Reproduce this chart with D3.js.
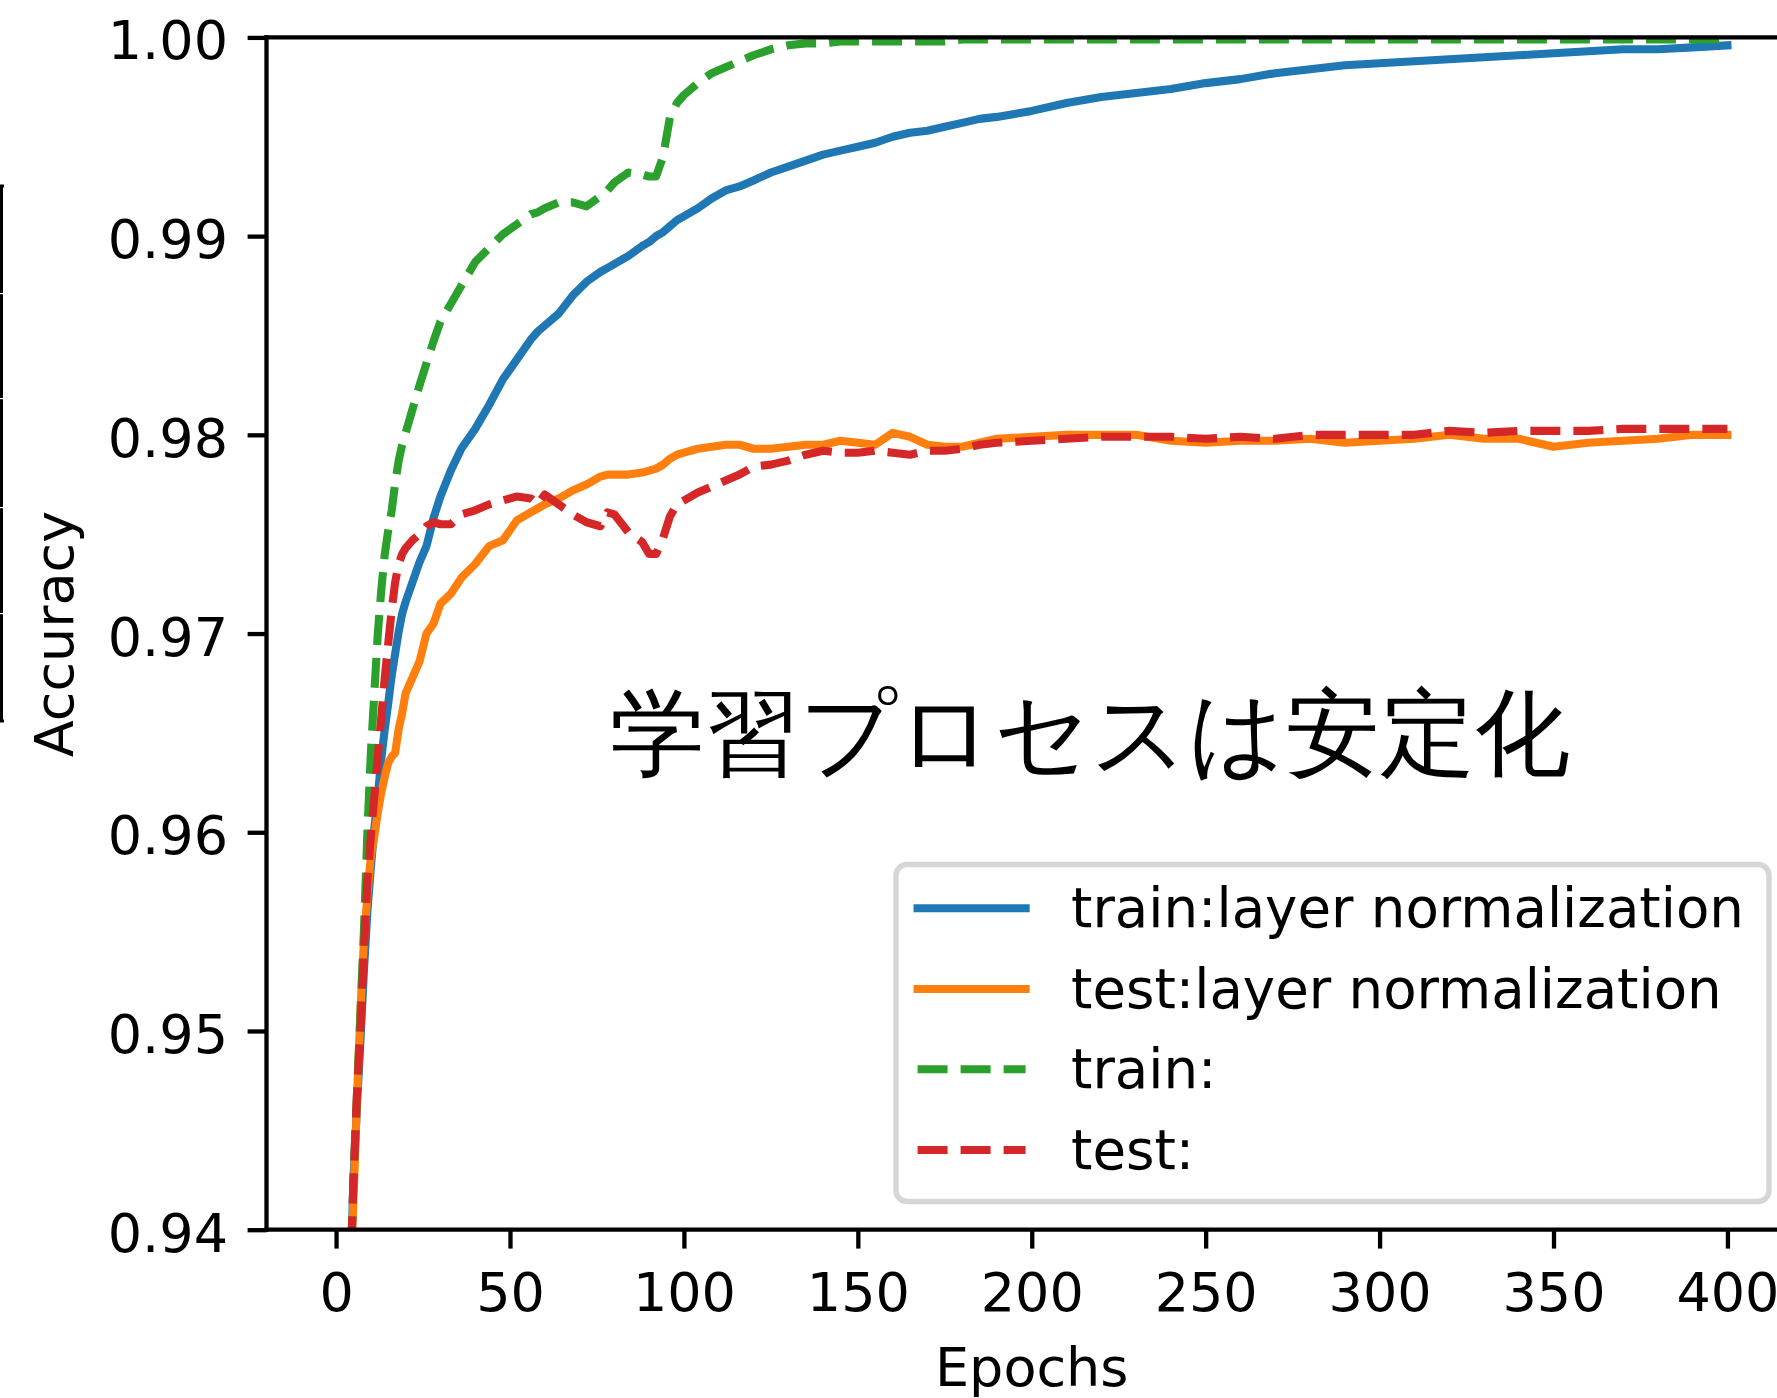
<!DOCTYPE html>
<html>
<head>
<meta charset="utf-8">
<script src="https://cdnjs.cloudflare.com/ajax/libs/d3/7.8.5/d3.min.js"></script>
<style>
html, body { margin: 0; padding: 0; background: #fff; }
svg { display: block; }
text { font-family: "DejaVu Sans", sans-serif; fill: #000; }
</style>
</head>
<body>
<svg id="chart" width="1777" height="1398"></svg>
<script>
// epochs the curves were read at
var epochs = [4,5,6,7,8,9,10,11,12,13,14,15,16,17,18,19,20,
  22,24,26,28,30,
  33,36,40,44,48,52,56,58,60,64,68,72,76,78,80,84,88,90,92,94,96,98,100,
  104,108,112,116,120,
  125,130,135,140,145,150,155,160,165,170,175,180,185,190,
  200,210,220,230,240,250,260,270,280,290,300,310,320,330,340,350,360,370,380,390,400];

var trainLN = [.937,.9425,.9462,.9495,.9530,.9560,.9582,.9602,.9618,.9637,.9652,.9665,.9679,.9690,.9701,.9710,.9716,
  .9726,.9736,.9744,.9758,.9769,
  .9782,.9793,.9803,.9815,.9828,.9838,.9848,.9852,.9855,.9861,.9870,.9877,.9882,.9884,.9886,.9890,.9895,.9897,.9900,.9902,.9905,.9908,.9910,
  .9914,.9919,.9923,.9925,.9928,
  .9932,.9935,.9938,.9941,.9943,.9945,.9947,.9950,.9952,.9953,.9955,.9957,.9959,.9960,
  .9963,.9967,.9970,.9972,.9974,.9977,.9979,.9982,.9984,.9986,.9987,.9988,.9989,.9990,.9991,.9992,.9993,.9994,.9994,.9995,.9996];

var testLN = [.937,.9415,.9465,.9510,.9545,.9568,.9588,.9598,.9610,.9620,.9628,.9635,.9638,.9640,.9652,.9660,.9670,
  .9678,.9686,.9700,.9705,.9715,
  .9720,.9728,.9735,.9744,.9747,.9757,.9761,.9763,.9765,.9768,.9772,.9775,.9779,.9780,.9780,.9780,.9781,.9782,.9783,.9785,.9788,.9790,.9791,
  .9793,.9794,.9795,.9795,.9793,
  .9793,.9794,.9795,.9795,.9797,.9796,.9795,.9801,.9799,.9795,.9794,.9794,.9796,.9798,
  .9799,.9800,.9800,.9800,.9797,.9796,.9797,.9797,.9798,.9796,.9797,.9798,.9800,.9798,.9798,.9794,.9796,.9797,.9798,.9800,.9800];

var trainPlain = [.937,.9425,.9468,.9508,.9550,.9600,.9640,.9670,.9700,.9722,.9740,.9752,.9762,.9776,.9787,.9795,.9801,
  .9813,.9825,.9836,.9847,.9857,
  .9866,.9875,.9887,.9894,.9901,.9906,.9911,.9912,.9914,.9917,.9917,.9915,.9920,.9923,.9927,.9932,.9931,.9930,.9930,.9940,.9960,.9967,.9971,
  .9977,.9982,.9985,.9988,.9991,
  .9994,.9996,.9997,.9997,.9998,.9998,.9998,.9998,.9998,.9998,.9998,.9999,.9999,.9999,
  .9999,.9999,.9999,.9999,.9999,.9999,.9999,.9999,.9999,.9999,.9999,.9999,.9999,.9999,.9999,.9999,.9999,.9999,.9999,.9999,.9999];

var testPlain = [.937,.9425,.9468,.9500,.9540,.9575,.9598,.9618,.9638,.9658,.9678,.9695,.9712,.9726,.9735,.9740,.9743,
  .9747,.9750,.9754,.9756,.9755,
  .9755,.9760,.9762,.9765,.9767,.9769,.9768,.9765,.9770,.9765,.9760,.9756,.9754,.9761,.9760,.9751,.9746,.9740,.9740,.9748,.9759,.9765,.9767,
  .9771,.9774,.9777,.9780,.9784,
  .9785,.9787,.9790,.9792,.9791,.9791,.9792,.9791,.9790,.9792,.9792,.9793,.9795,.9796,
  .9797,.9798,.9799,.9799,.9799,.9798,.9799,.9798,.9800,.9800,.9800,.9800,.9802,.9801,.9802,.9802,.9802,.9803,.9803,.9803,.9803];

var seriesLabels = ["train:layer normalization", "test:layer normalization", "train:", "test:"];
var xTicks = [0, 50, 100, 150, 200, 250, 300, 350, 400];
var yTicks = [0.94, 0.95, 0.96, 0.97, 0.98, 0.99, 1.00];
var note = "学習プロセスは安定化";

var colors = ["#1f77b4", "#ff7f0e", "#2ca02c", "#d62728"];
var dashes = [null, null, "30,13", "30,13"];
var allSeries = [trainLN, testLN, trainPlain, testPlain];

// layout (matplotlib px at ~5.4px/pt); the figure is cropped on the right
var plotL = 266.5, plotR = 1797, plotT = 37.4, plotB = 1229.7;
var fs = 54, lw = 8.1, spineW = 4.3, tickLen = 18.9;

var svg = d3.select("#chart");
svg.append("rect").attr("width", 1777).attr("height", 1398).attr("fill", "#fff");

var x = d3.scaleLinear().domain([-20, 420]).range([plotL, plotR]);
var y = d3.scaleLinear().domain([0.94, 1.0]).range([plotB, plotT]);

svg.append("clipPath").attr("id", "plotclip")
   .append("rect").attr("x", plotL).attr("y", plotT)
   .attr("width", plotR - plotL).attr("height", plotB - plotT);

// Curves
var line = d3.line()
  .x(function(d) { return x(d[0]); })
  .y(function(d) { return y(d[1]); });

var plot = svg.append("g").attr("clip-path", "url(#plotclip)");
allSeries.forEach(function(vals, k) {
  var pts = epochs.map(function(e, i) { return [e, vals[i]]; });
  plot.append("path")
    .datum(pts)
    .attr("d", line)
    .attr("fill", "none")
    .attr("stroke", colors[k])
    .attr("stroke-width", lw)
    .attr("stroke-linejoin", "round")
    .attr("stroke-linecap", dashes[k] ? "butt" : "square")
    .attr("stroke-dasharray", dashes[k]);
});

// Axis X
var gx = svg.append("g")
  .attr("transform", "translate(0," + plotB + ")")
  .call(d3.axisBottom(x).tickValues(xTicks).tickFormat(d3.format("d"))
        .tickSize(tickLen).tickSizeOuter(0));
gx.select(".domain").remove();
gx.selectAll(".tick line").attr("stroke", "#000").attr("stroke-width", spineW);
gx.selectAll(".tick text")
  .attr("dy", null).attr("y", 81.5)
  .attr("font-size", fs).attr("font-family", "DejaVu Sans");

// Axis Y
var gy = svg.append("g")
  .attr("transform", "translate(" + plotL + ",0)")
  .call(d3.axisLeft(y).tickValues(yTicks).tickFormat(d3.format(".2f"))
        .tickSize(tickLen).tickSizeOuter(0));
gy.select(".domain").remove();
gy.selectAll(".tick line").attr("stroke", "#000").attr("stroke-width", spineW);
gy.selectAll(".tick text")
  .attr("dy", null).attr("y", 21.5).attr("x", -38.5)
  .attr("font-size", fs).attr("font-family", "DejaVu Sans");

// Spines
var spines = [[plotL, plotT, plotL, plotB], [plotL, plotT, plotR, plotT], [plotL, plotB, plotR, plotB]];
svg.selectAll("line.spine").data(spines).enter().append("line")
  .attr("class", "spine")
  .attr("x1", function(d) { return d[0]; }).attr("y1", function(d) { return d[1]; })
  .attr("x2", function(d) { return d[2]; }).attr("y2", function(d) { return d[3]; })
  .attr("stroke", "#000").attr("stroke-width", spineW).attr("stroke-linecap", "square");

// Axis labels
svg.append("text").attr("x", (plotL + plotR) / 2).attr("y", 1386)
  .attr("text-anchor", "middle").attr("font-size", fs).text("Epochs");
svg.append("text").attr("transform", "translate(73,634) rotate(-90)")
  .attr("text-anchor", "middle").attr("font-size", fs).text("Accuracy");

// Annotation
svg.append("text").attr("x", 610).attr("y", 766)
  .attr("font-family", "'Noto Sans CJK JP', 'Noto Sans CJK SC', sans-serif")
  .attr("font-size", 94.5).text(note);

// Legend
var lg = svg.append("g");
lg.append("rect")
  .attr("x", 896).attr("y", 864.5).attr("width", 873).attr("height", 337)
  .attr("rx", 11).attr("ry", 11)
  .attr("fill", "#fff").attr("fill-opacity", 0.8)
  .attr("stroke", "#cccccc").attr("stroke-opacity", 0.8).attr("stroke-width", 5.4);

var rowY = [908.3, 989, 1069.3, 1150];
var rows = lg.selectAll("g.entry").data(seriesLabels).enter().append("g").attr("class", "entry");
rows.append("line")
  .attr("x1", 917.6).attr("x2", 1025.6)
  .attr("y1", function(d, i) { return rowY[i]; })
  .attr("y2", function(d, i) { return rowY[i]; })
  .attr("stroke", function(d, i) { return colors[i]; })
  .attr("stroke-width", lw)
  .attr("stroke-linecap", function(d, i) { return dashes[i] ? "butt" : "square"; })
  .attr("stroke-dasharray", function(d, i) { return dashes[i]; });
rows.append("text")
  .attr("x", 1071)
  .attr("y", function(d, i) { return rowY[i] + 18.5; })
  .attr("font-size", 54.6)
  .text(function(d) { return d; });

// leftover edge of a neighbouring panel at the far left
svg.append("path").attr("d", "M4,186H1.5V721H4")
  .attr("fill", "none").attr("stroke", "#000").attr("stroke-width", 3);
[293, 398, 507, 613].forEach(function(g) {
  svg.append("rect").attr("x", 0).attr("y", g).attr("width", 4).attr("height", 1.2).attr("fill", "#fff");
});
</script>
</body>
</html>
